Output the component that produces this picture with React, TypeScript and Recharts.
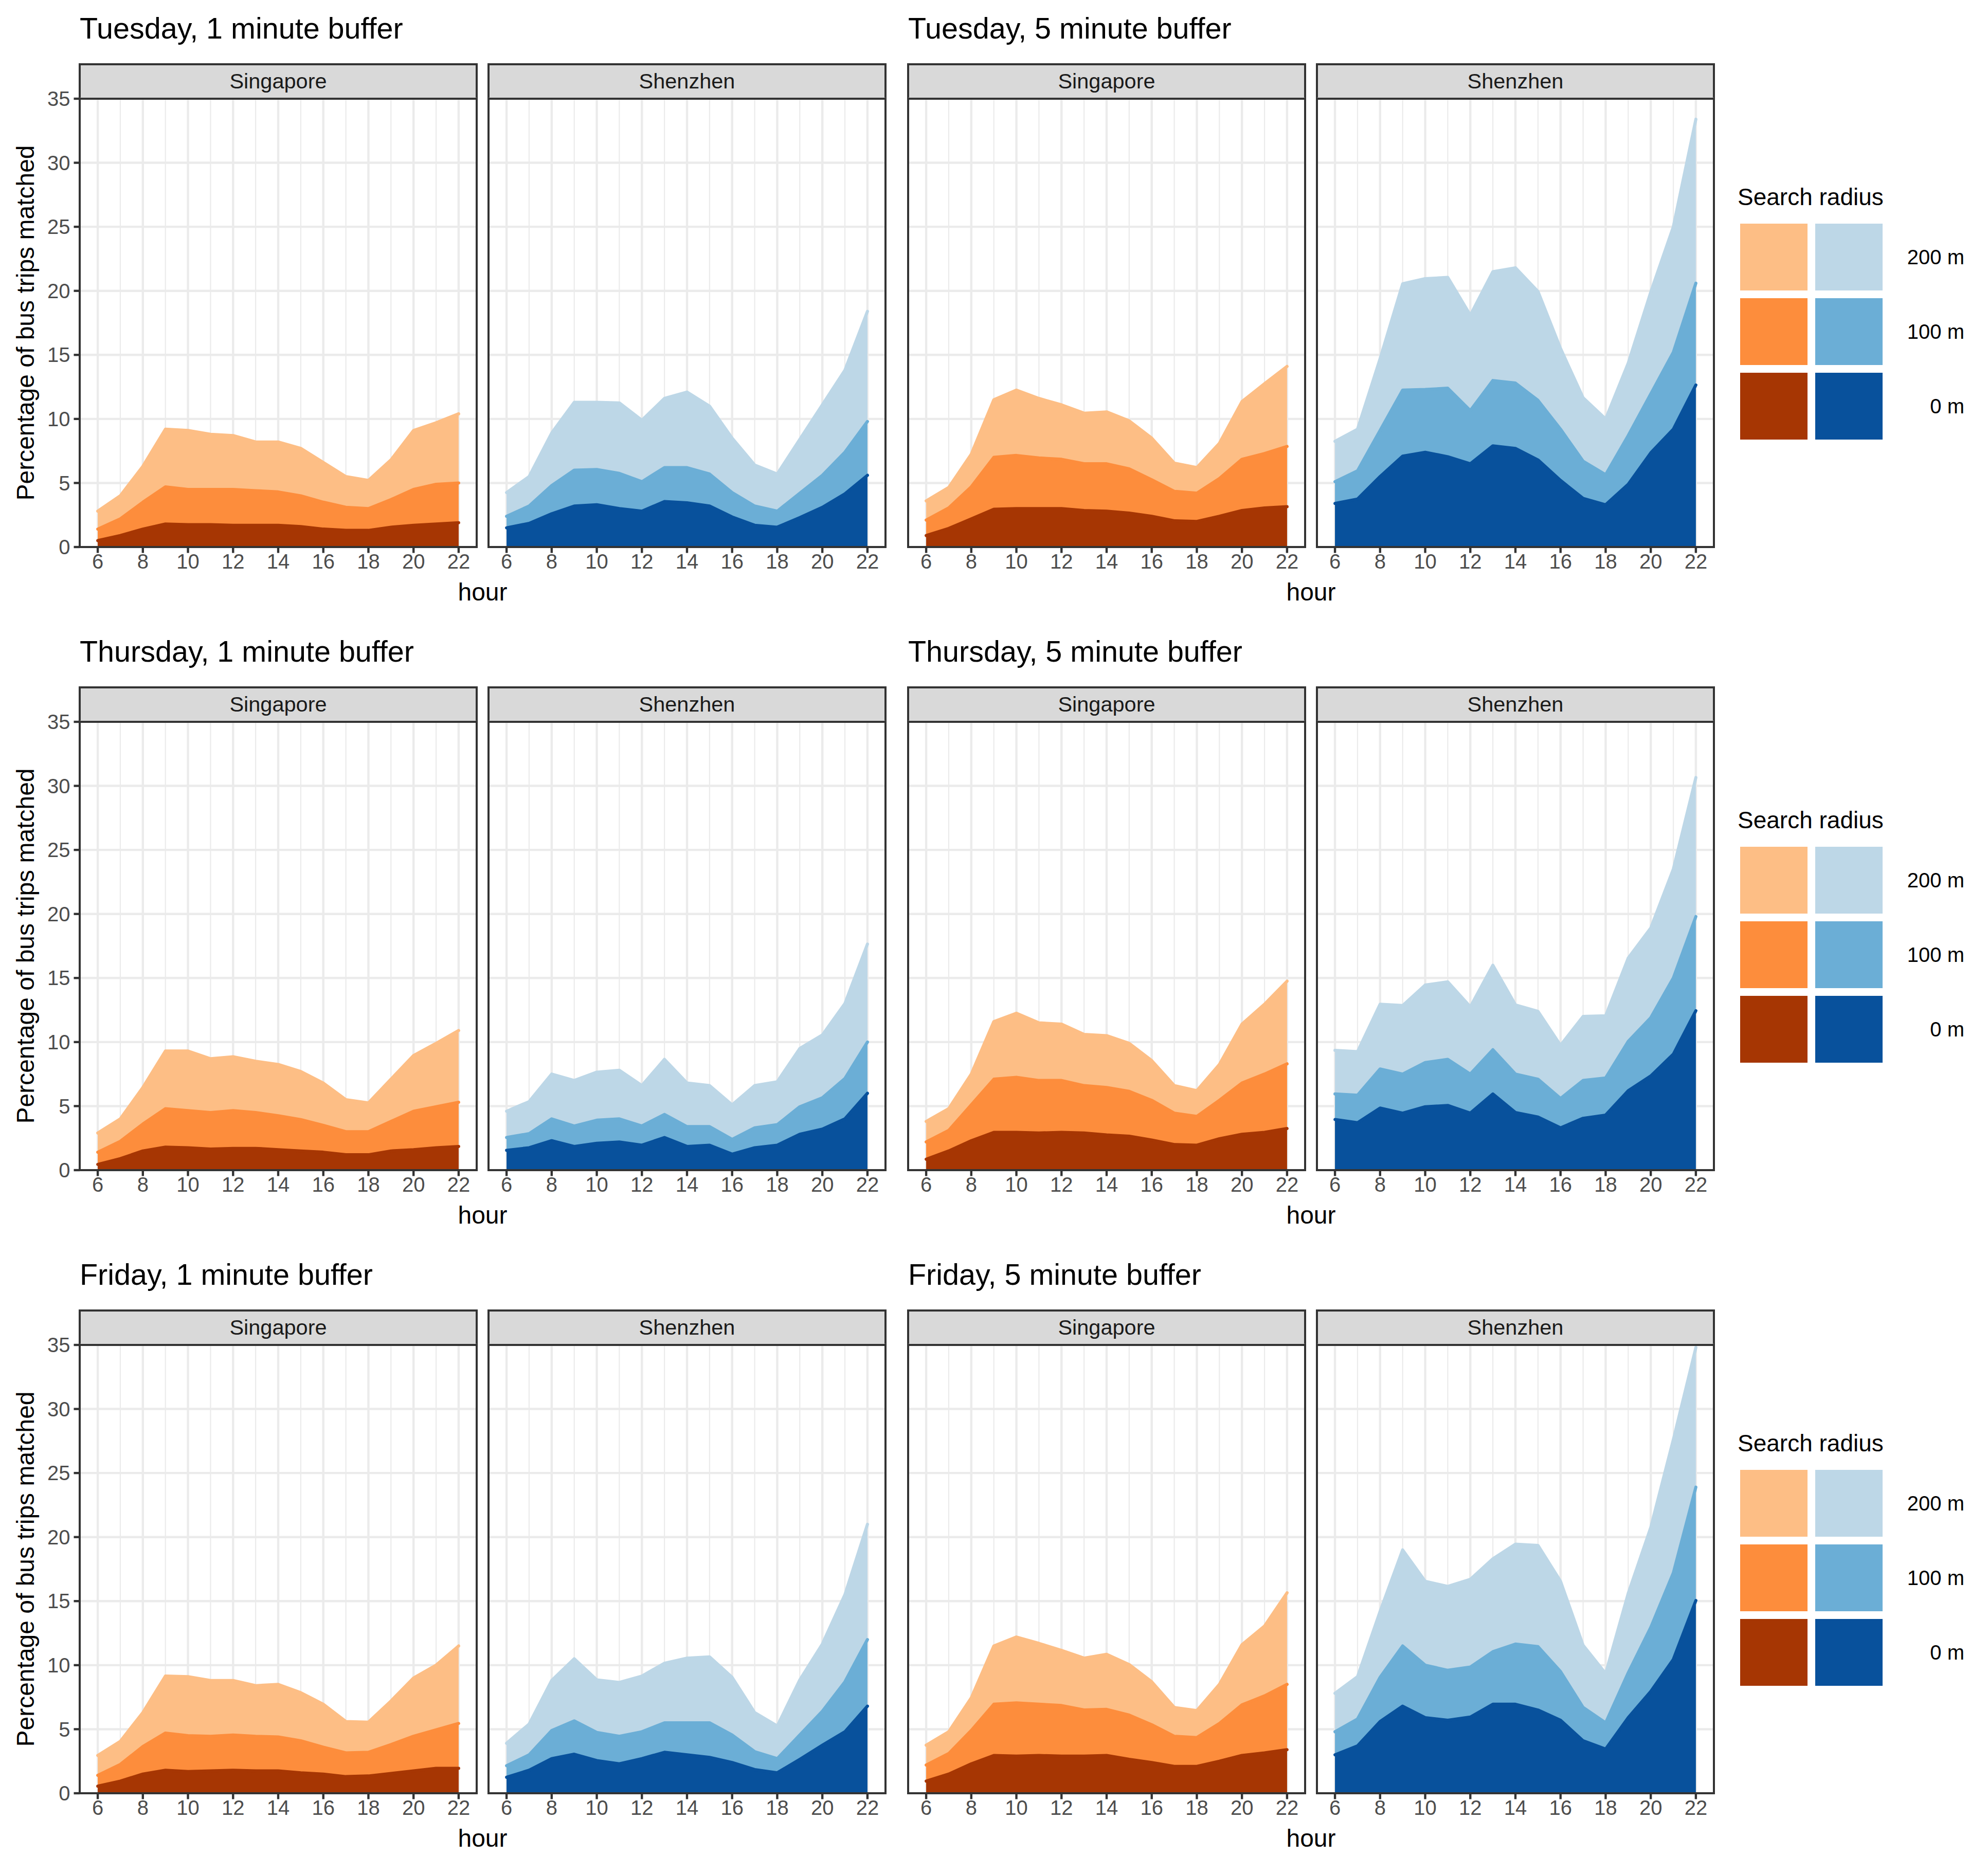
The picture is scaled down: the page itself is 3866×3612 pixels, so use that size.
import React from 'react';
import { AreaChart, Area, XAxis, YAxis, CartesianGrid } from 'recharts';

// ---------------- data ----------------
const hours = [6, 7, 8, 9, 10, 11, 12, 13, 14, 15, 16, 17, 18, 19, 20, 21, 22];
const xTicks = [6, 8, 10, 12, 14, 16, 18, 20, 22];
const yTicks = [0, 5, 10, 15, 20, 25, 30, 35];
const radiusLabels = ['200 m', '100 m', '0 m'];
const cities = ['Singapore', 'Shenzhen'];
const rowTitles = [
  ['Tuesday, 1 minute buffer', 'Tuesday, 5 minute buffer'],
  ['Thursday, 1 minute buffer', 'Thursday, 5 minute buffer'],
  ['Friday, 1 minute buffer', 'Friday, 5 minute buffer'],
];

// Tuesday, 1 minute
const tue1Sg200 = [2.8, 4.0, 6.3, 9.2, 9.1, 8.8, 8.7, 8.2, 8.2, 7.7, 6.6, 5.5, 5.2, 6.8, 9.1, 9.7, 10.4];
const tue1Sg100 = [1.4, 2.2, 3.5, 4.7, 4.5, 4.5, 4.5, 4.4, 4.3, 4.0, 3.5, 3.1, 3.0, 3.7, 4.5, 4.9, 5.0];
const tue1Sg0 = [0.5, 0.9, 1.4, 1.8, 1.75, 1.75, 1.7, 1.7, 1.7, 1.6, 1.4, 1.3, 1.3, 1.55, 1.7, 1.8, 1.9];
const tue1Sz200 = [4.25, 5.5, 8.9, 11.3, 11.3, 11.25, 9.9, 11.6, 12.1, 11.0, 8.5, 6.4, 5.7, 8.4, 11.1, 13.8, 18.4];
const tue1Sz100 = [2.4, 3.2, 4.8, 6.0, 6.05, 5.75, 5.1, 6.2, 6.2, 5.7, 4.25, 3.2, 2.8, 4.2, 5.6, 7.4, 9.8];
const tue1Sz0 = [1.5, 1.85, 2.6, 3.2, 3.3, 3.0, 2.8, 3.55, 3.45, 3.2, 2.35, 1.7, 1.55, 2.3, 3.1, 4.15, 5.6];
// Tuesday, 5 minute
const tue5Sg200 = [3.6, 4.65, 7.25, 11.5, 12.25, 11.6, 11.1, 10.45, 10.55, 9.85, 8.5, 6.55, 6.2, 8.1, 11.35, 12.75, 14.1];
const tue5Sg100 = [2.1, 3.05, 4.7, 7.0, 7.15, 6.95, 6.85, 6.5, 6.5, 6.1, 5.25, 4.35, 4.2, 5.35, 6.85, 7.3, 7.85];
const tue5Sg0 = [0.9, 1.45, 2.2, 2.95, 3.0, 3.0, 3.0, 2.85, 2.8, 2.65, 2.4, 2.05, 2.0, 2.4, 2.85, 3.05, 3.15];
const tue5Sz200 = [8.25, 9.2, 14.7, 20.55, 20.95, 21.05, 18.1, 21.5, 21.8, 19.95, 15.5, 11.65, 10.0, 14.35, 19.9, 25.0, 33.4];
const tue5Sz100 = [5.1, 5.95, 9.1, 12.25, 12.3, 12.4, 10.65, 13.0, 12.8, 11.45, 9.2, 6.7, 5.65, 8.7, 11.95, 15.2, 20.6];
const tue5Sz0 = [3.4, 3.75, 5.5, 7.1, 7.4, 7.05, 6.5, 7.9, 7.7, 6.8, 5.2, 3.8, 3.3, 4.9, 7.35, 9.2, 12.65];
// Thursday, 1 minute
const thu1Sg200 = [2.9, 4.0, 6.45, 9.3, 9.3, 8.7, 8.85, 8.5, 8.25, 7.7, 6.8, 5.5, 5.25, 7.1, 8.95, 9.9, 10.9];
const thu1Sg100 = [1.4, 2.25, 3.6, 4.8, 4.65, 4.5, 4.65, 4.5, 4.25, 3.95, 3.5, 3.0, 3.0, 3.8, 4.6, 4.95, 5.3];
const thu1Sg0 = [0.45, 0.9, 1.5, 1.8, 1.75, 1.65, 1.7, 1.7, 1.6, 1.5, 1.4, 1.2, 1.2, 1.5, 1.6, 1.75, 1.85];
const thu1Sz200 = [4.6, 5.35, 7.5, 7.0, 7.65, 7.8, 6.6, 8.65, 6.8, 6.6, 5.1, 6.6, 6.9, 9.5, 10.55, 13.0, 17.65];
const thu1Sz100 = [2.55, 2.85, 4.0, 3.45, 3.9, 4.0, 3.45, 4.35, 3.4, 3.4, 2.4, 3.3, 3.55, 4.95, 5.65, 7.15, 10.0];
const thu1Sz0 = [1.55, 1.75, 2.3, 1.85, 2.1, 2.2, 1.95, 2.55, 1.85, 1.95, 1.25, 1.75, 1.95, 2.8, 3.2, 4.0, 6.0];
// Thursday, 5 minute
const thu5Sg200 = [3.8, 4.8, 7.5, 11.6, 12.25, 11.5, 11.4, 10.6, 10.5, 9.9, 8.55, 6.6, 6.2, 8.25, 11.4, 12.95, 14.75];
const thu5Sg100 = [2.2, 3.1, 5.1, 7.1, 7.25, 7.0, 7.0, 6.6, 6.45, 6.15, 5.45, 4.45, 4.2, 5.45, 6.8, 7.5, 8.3];
const thu5Sg0 = [0.85, 1.5, 2.3, 2.95, 2.95, 2.9, 2.95, 2.9, 2.75, 2.65, 2.35, 2.0, 1.95, 2.45, 2.8, 2.95, 3.25];
const thu5Sz200 = [9.35, 9.25, 12.95, 12.85, 14.45, 14.7, 12.75, 16.0, 12.9, 12.4, 9.75, 12.0, 12.05, 16.55, 18.9, 23.5, 30.65];
const thu5Sz100 = [5.95, 5.85, 7.9, 7.5, 8.4, 8.65, 7.5, 9.4, 7.5, 7.1, 5.6, 7.0, 7.2, 10.05, 11.9, 15.0, 19.8];
const thu5Sz0 = [3.95, 3.7, 4.85, 4.45, 4.95, 5.05, 4.45, 5.95, 4.5, 4.15, 3.3, 4.05, 4.3, 6.2, 7.35, 9.05, 12.45];
// Friday, 1 minute
const fri1Sg200 = [2.95, 4.05, 6.3, 9.15, 9.1, 8.8, 8.8, 8.4, 8.5, 7.85, 6.95, 5.6, 5.55, 7.2, 9.0, 10.0, 11.5];
const fri1Sg100 = [1.4, 2.25, 3.65, 4.7, 4.5, 4.45, 4.55, 4.45, 4.4, 4.1, 3.6, 3.15, 3.2, 3.8, 4.45, 4.95, 5.45];
const fri1Sg0 = [0.55, 0.95, 1.5, 1.8, 1.7, 1.75, 1.8, 1.75, 1.75, 1.6, 1.5, 1.3, 1.35, 1.55, 1.75, 1.95, 1.95];
const fri1Sz200 = [3.9, 5.4, 8.8, 10.5, 8.85, 8.65, 9.15, 10.15, 10.55, 10.65, 9.05, 6.3, 5.25, 8.85, 11.65, 15.5, 21.0];
const fri1Sz100 = [2.15, 3.0, 4.9, 5.65, 4.75, 4.45, 4.8, 5.5, 5.5, 5.5, 4.55, 3.25, 2.7, 4.55, 6.4, 8.7, 12.0];
const fri1Sz0 = [1.25, 1.8, 2.7, 3.05, 2.55, 2.3, 2.7, 3.2, 3.0, 2.8, 2.4, 1.85, 1.6, 2.65, 3.75, 4.8, 6.8];
// Friday, 5 minute
const fri5Sg200 = [3.75, 4.8, 7.45, 11.5, 12.2, 11.7, 11.15, 10.55, 10.85, 10.05, 8.7, 6.7, 6.45, 8.5, 11.6, 13.05, 15.65];
const fri5Sg100 = [2.2, 3.1, 4.9, 6.95, 7.05, 6.95, 6.85, 6.5, 6.55, 6.1, 5.35, 4.45, 4.35, 5.45, 6.9, 7.6, 8.5];
const fri5Sg0 = [0.95, 1.5, 2.3, 2.95, 2.9, 2.95, 2.9, 2.9, 2.95, 2.65, 2.4, 2.1, 2.1, 2.5, 2.95, 3.15, 3.4];
const fri5Sz200 = [7.8, 9.1, 14.2, 19.0, 16.55, 16.15, 16.7, 18.3, 19.45, 19.35, 16.55, 11.55, 9.35, 15.6, 20.75, 27.6, 34.8];
const fri5Sz100 = [4.8, 5.8, 9.05, 11.5, 10.0, 9.6, 9.85, 11.05, 11.65, 11.45, 9.5, 6.7, 5.5, 9.4, 12.95, 17.2, 23.9];
const fri5Sz0 = [3.0, 3.7, 5.6, 6.8, 5.9, 5.7, 5.95, 6.95, 6.95, 6.5, 5.7, 4.1, 3.45, 5.9, 7.95, 10.45, 15.05];

// ---------------- styling ----------------
const FONT = '"Liberation Sans", Arial, Helvetica, sans-serif';
const ORANGES = ['#FDBE85', '#FD8D3C', '#A63603'];
const BLUES = ['#BDD7E7', '#6BAED6', '#08519C'];

const PW = 772; // panel width
const PH = 872; // panel height
const SH = 67; // strip height
const BW = 4.4; // border width
const MT = 30; // chart top margin
const XH = 80; // x axis height
const YW = 80; // y axis width
const panelLefts = [155, 950, 1766, 2561];
const rowTops = [192, 1404, 2616];

const TITLE_FS = 57.5;
const AXIS_TITLE_FS = 48;
const SMALL_FS = 40;
const STRIP_FS = 41.5;
const LEGEND_TITLE_FS = 46;
const LEG_X = 3384;

const build = (a: number[], b: number[], c: number[]) =>
  hours.map((h, i) => ({ hour: h, r200: a[i], r100: b[i], r0: c[i] }));

const rows = [
  [
    build(tue1Sg200, tue1Sg100, tue1Sg0),
    build(tue1Sz200, tue1Sz100, tue1Sz0),
    build(tue5Sg200, tue5Sg100, tue5Sg0),
    build(tue5Sz200, tue5Sz100, tue5Sz0),
  ],
  [
    build(thu1Sg200, thu1Sg100, thu1Sg0),
    build(thu1Sz200, thu1Sz100, thu1Sz0),
    build(thu5Sg200, thu5Sg100, thu5Sg0),
    build(thu5Sz200, thu5Sz100, thu5Sz0),
  ],
  [
    build(fri1Sg200, fri1Sg100, fri1Sg0),
    build(fri1Sz200, fri1Sz100, fri1Sz0),
    build(fri5Sg200, fri5Sg100, fri5Sg0),
    build(fri5Sz200, fri5Sz100, fri5Sz0),
  ],
];

const majorX = xTicks;
const minorX = hours.filter((h) => h % 2 === 1);
const majorY = yTicks;

function Panel({ data, left, top, showY, colors, city }: any) {
  const yw = showY ? YW : 0;
  const keys = ['r200', 'r100', 'r0'];
  return (
    <>
      <div
        style={{
          position: 'absolute',
          left: left - BW / 2,
          top: top - SH - BW / 2,
          width: PW + BW,
          height: SH + BW,
          boxSizing: 'border-box',
          border: `${BW}px solid #333333`,
          background: '#D9D9D9',
          display: 'flex',
          alignItems: 'center',
          justifyContent: 'center',
          fontFamily: FONT,
          fontSize: STRIP_FS,
          color: '#1A1A1A',
        }}
      >
        {city}
      </div>
      <div style={{ position: 'absolute', left: left - yw, top: top - MT }}>
        <AreaChart
          width={PW + yw}
          height={PH + MT + XH}
          data={data}
          margin={{ top: MT, right: 0, bottom: 0, left: 0 }}
        >
          <CartesianGrid
            horizontal={false}
            vertical={true}
            verticalValues={minorX}
            stroke="#EBEBEB"
            strokeWidth={2.2}
          />
          <CartesianGrid
            horizontal={true}
            vertical={true}
            verticalValues={majorX}
            horizontalValues={majorY}
            stroke="#EBEBEB"
            strokeWidth={4.4}
          />
          <XAxis
            dataKey="hour"
            type="number"
            domain={[5.2, 22.8]}
            ticks={xTicks}
            interval={0}
            allowDataOverflow
            axisLine={false}
            height={XH}
            tickSize={11.5}
            tickMargin={2}
            tickLine={{ stroke: '#333333', strokeWidth: BW }}
            tick={{ fill: '#4D4D4D', fontSize: SMALL_FS, fontFamily: FONT }}
          />
          <YAxis
            hide={!showY}
            type="number"
            domain={[0, 35]}
            ticks={yTicks}
            interval={0}
            allowDataOverflow
            axisLine={false}
            width={YW}
            tickSize={11.5}
            tickMargin={7}
            tickLine={{ stroke: '#333333', strokeWidth: BW }}
            tick={{ fill: '#4D4D4D', fontSize: SMALL_FS, fontFamily: FONT }}
          />
          {keys.map((k, i) => (
            <Area
              key={k}
              dataKey={k}
              type="linear"
              baseValue={0}
              fill={colors[i]}
              fillOpacity={1}
              stroke={colors[i]}
              strokeWidth={6}
              strokeLinecap="round"
              strokeLinejoin="round"
              dot={false}
              activeDot={false}
              isAnimationActive={false}
            />
          ))}
        </AreaChart>
      </div>
      <div
        style={{
          position: 'absolute',
          left: left - BW / 2,
          top: top - BW / 2,
          width: PW + BW,
          height: PH + BW,
          boxSizing: 'border-box',
          border: `${BW}px solid #333333`,
          pointerEvents: 'none',
        }}
      />
    </>
  );
}

function Legend({ top }: { top: number }) {
  const keyW = 131;
  const keyH = 130;
  const step = 145;
  const keyTop0 = top + 243;
  return (
    <>
      <div
        style={{
          position: 'absolute',
          left: LEG_X - 5,
          top: top + 191 - LEGEND_TITLE_FS / 2,
          fontFamily: FONT,
          fontSize: LEGEND_TITLE_FS,
          lineHeight: 1,
          color: '#000',
          whiteSpace: 'nowrap',
        }}
      >
        Search radius
      </div>
      {radiusLabels.map((lab, i) => (
        <React.Fragment key={lab}>
          <div
            style={{
              position: 'absolute',
              left: LEG_X,
              top: keyTop0 + i * step,
              width: keyW,
              height: keyH,
              background: ORANGES[i],
            }}
          />
          <div
            style={{
              position: 'absolute',
              left: LEG_X + 146,
              top: keyTop0 + i * step,
              width: keyW,
              height: keyH,
              background: BLUES[i],
            }}
          />
          <div
            style={{
              position: 'absolute',
              right: 3866 - (LEG_X + 436),
              top: keyTop0 + i * step + keyH / 2 - SMALL_FS / 2,
              fontFamily: FONT,
              fontSize: SMALL_FS,
              lineHeight: 1,
              color: '#000',
              whiteSpace: 'nowrap',
            }}
          >
            {lab}
          </div>
        </React.Fragment>
      ))}
    </>
  );
}

export default function App() {
  return (
    <div
      style={{
        position: 'absolute',
        left: 0,
        top: 0,
        width: 3866,
        height: 3612,
        background: '#FFFFFF',
        overflow: 'hidden',
      }}
    >
      {rowTops.map((top, r) => (
        <React.Fragment key={r}>
          {[0, 1].map((g) => (
            <div
              key={g}
              style={{
                position: 'absolute',
                left: panelLefts[g * 2],
                top: top - 136 - TITLE_FS / 2,
                fontFamily: FONT,
                fontSize: TITLE_FS,
                lineHeight: 1,
                color: '#000',
                whiteSpace: 'nowrap',
              }}
            >
              {rowTitles[r][g]}
            </div>
          ))}
          <div
            style={{
              position: 'absolute',
              left: 50,
              top: top + PH / 2,
              transform: 'translate(-50%, -50%) rotate(-90deg)',
              fontFamily: FONT,
              fontSize: AXIS_TITLE_FS,
              lineHeight: 1,
              color: '#000',
              whiteSpace: 'nowrap',
            }}
          >
            Percentage of bus trips matched
          </div>
          {rows[r].map((data, p) => (
            <Panel
              key={p}
              data={data}
              left={panelLefts[p]}
              top={top}
              showY={p === 0}
              colors={p % 2 === 0 ? ORANGES : BLUES}
              city={cities[p % 2]}
            />
          ))}
          {[0, 1].map((g) => {
            const cx = (panelLefts[g * 2] + panelLefts[g * 2 + 1] + PW) / 2;
            return (
              <div
                key={'h' + g}
                style={{
                  position: 'absolute',
                  left: cx,
                  top: top + PH + 88,
                  transform: 'translate(-50%, -50%)',
                  fontFamily: FONT,
                  fontSize: AXIS_TITLE_FS,
                  lineHeight: 1,
                  color: '#000',
                  whiteSpace: 'nowrap',
                }}
              >
                hour
              </div>
            );
          })}
          <Legend top={top} />
        </React.Fragment>
      ))}
    </div>
  );
}
